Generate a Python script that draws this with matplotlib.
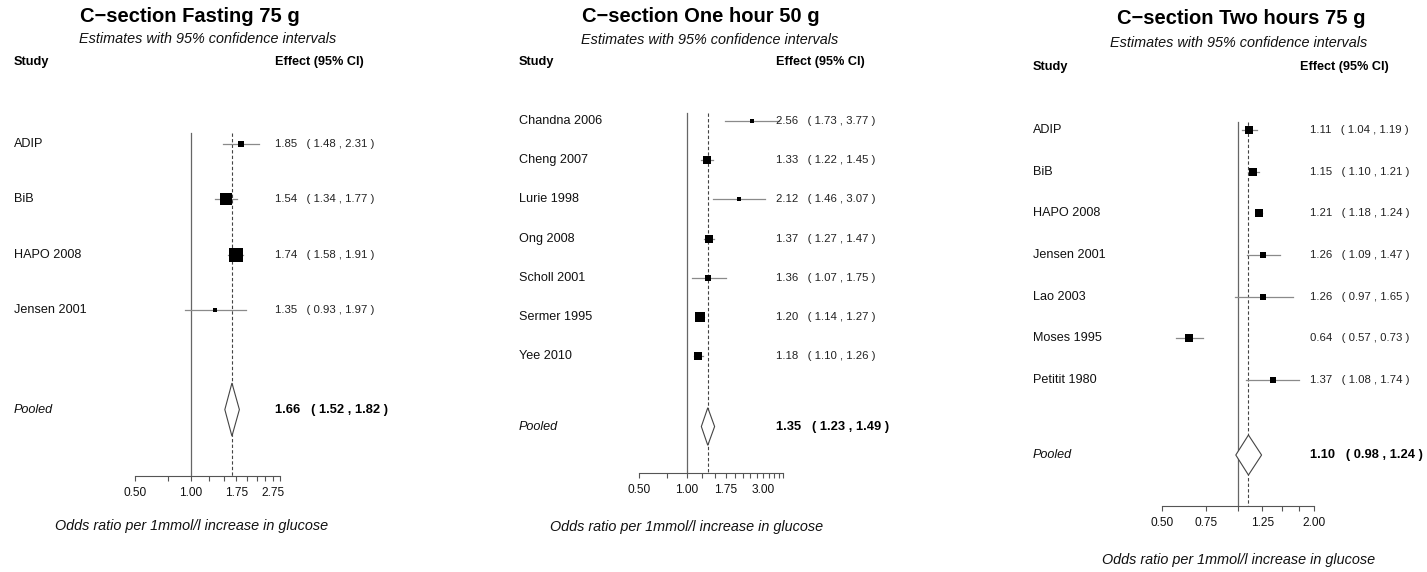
import numpy as np
import matplotlib.pyplot as plt
from matplotlib.patches import Polygon
from matplotlib.ticker import NullLocator
from matplotlib.transforms import blended_transform_factory

plt.rcParams["font.family"] = ["Liberation Sans", "DejaVu Sans"]

W, H = 1427, 572

# ------------------------------------------------------------
# Study data (odds ratio, 95% CI, weight %)
# ------------------------------------------------------------
fast_studies = ["ADIP", "BiB", "HAPO 2008", "Jensen 2001"]
fast_est = [1.85, 1.54, 1.74, 1.35]
fast_lo = [1.48, 1.34, 1.58, 0.93]
fast_hi = [2.31, 1.77, 1.91, 1.97]
fast_wt = [12.0, 34.0, 48.0, 6.5]
fast_pool = [1.66, 1.52, 1.82]

oneh_studies = ["Chandna 2006", "Cheng 2007", "Lurie 1998", "Ong 2008",
                "Scholl 2001", "Sermer 1995", "Yee 2010"]
oneh_est = [2.56, 1.33, 2.12, 1.37, 1.36, 1.20, 1.18]
oneh_lo = [1.73, 1.22, 1.46, 1.27, 1.07, 1.14, 1.10]
oneh_hi = [3.77, 1.45, 3.07, 1.47, 1.75, 1.27, 1.26]
oneh_wt = [5.5, 19.0, 5.5, 19.0, 8.3, 22.4, 20.4]
oneh_pool = [1.35, 1.23, 1.49]

twoh_studies = ["ADIP", "BiB", "HAPO 2008", "Jensen 2001", "Lao 2003",
                "Moses 1995", "Petitit 1980"]
twoh_est = [1.11, 1.15, 1.21, 1.26, 1.26, 0.64, 1.37]
twoh_lo = [1.04, 1.10, 1.18, 1.09, 0.97, 0.57, 1.08]
twoh_hi = [1.19, 1.21, 1.24, 1.47, 1.65, 0.73, 1.74]
twoh_wt = [18.1, 18.1, 18.1, 12.7, 7.9, 15.0, 10.2]
twoh_pool = [1.10, 0.98, 1.24]

fast_ticklabels = [0.50, 1.00, 1.75, 2.75]
oneh_ticklabels = [0.50, 1.00, 1.75, 3.00]
twoh_ticklabels = [0.50, 0.75, 1.25, 2.00]

XLABEL = "Odds ratio per 1mmol/l increase in glucose"
SUBTITLE = "Estimates with 95% confidence intervals"


# ------------------------------------------------------------
# Panel layout (pixels)
# ------------------------------------------------------------
panels = [
    dict(title="C\u2212section Fasting 75 g", studies=fast_studies, est=fast_est,
         lo=fast_lo, hi=fast_hi, wt=fast_wt, pool=fast_pool, xmax=3.0,
         ticklabels=fast_ticklabels,
         x_half=135, x_one=191, row0=144, step=55.33, axis_y=476,
         title_xy=(190, 17), sub_xy=(208, 39), head_y=62, study_x=14,
         effect_x=275, head_x=275, xlabel_xy=(192, 526)),
    dict(title="C\u2212section One hour 50 g", studies=oneh_studies, est=oneh_est,
         lo=oneh_lo, hi=oneh_hi, wt=oneh_wt, pool=oneh_pool, xmax=4.0,
         ticklabels=oneh_ticklabels,
         x_half=639, x_one=687, row0=121, step=39.17, axis_y=473,
         title_xy=(701, 17), sub_xy=(710, 40), head_y=62, study_x=519,
         effect_x=776, head_x=776, xlabel_xy=(687, 527)),
    dict(title="C\u2212section Two hours 75 g", studies=twoh_studies, est=twoh_est,
         lo=twoh_lo, hi=twoh_hi, wt=twoh_wt, pool=twoh_pool, xmax=2.0,
         ticklabels=twoh_ticklabels,
         x_half=1162, x_one=1238, row0=130, step=41.67, axis_y=506,
         title_xy=(1241, 19), sub_xy=(1239, 43), head_y=67, study_x=1033,
         effect_x=1310, head_x=1300, xlabel_xy=(1239, 560)),
]

fig = plt.figure(figsize=(W / 100, H / 100), dpi=100)


def ftext(x, y, s, **kw):
    fig.text(x / W, 1 - y / H, s, va="center", **kw)


def draw_panel(p):
    n = len(p["studies"])
    scale = (p["x_one"] - p["x_half"]) / np.log(2)
    x_right = p["x_one"] + scale * np.log(p["xmax"])
    top_px = p["row0"] - 0.5 * p["step"]
    ybottom = (p["axis_y"] - p["row0"]) / p["step"]

    ax = fig.add_axes([p["x_half"] / W, 1 - p["axis_y"] / H,
                       (x_right - p["x_half"]) / W, (p["axis_y"] - top_px) / H])
    ax.set_xscale("log")
    ax.set_xlim(0.5, p["xmax"])
    ax.set_ylim(ybottom, -0.5)
    for side in ["top", "right", "left"]:
        ax.spines[side].set_visible(False)
    ax.spines["bottom"].set_color("#555555")
    ax.spines["bottom"].set_linewidth(0.8)
    ax.set_yticks([])

    ticks = np.arange(0.5, p["xmax"] + 0.01, 0.25)
    labels = [f"{t:.2f}" if any(abs(t - v) < 1e-9 for v in p["ticklabels"]) else ""
              for t in ticks]
    ax.xaxis.set_minor_locator(NullLocator())
    ax.set_xticks(ticks)
    ax.set_xticklabels(labels)
    ax.tick_params(axis="x", direction="out", length=3.6, width=0.8,
                   color="#555555", labelsize=8.6, pad=4.0, labelcolor="#111111")

    pooled_est, pooled_lo, pooled_hi = p["pool"]
    pool_row = n + 0.8

    # reference lines: null effect and pooled estimate
    ax.plot([1.0, 1.0], [-0.2, ybottom], color="#666666", lw=0.9, clip_on=False)
    ax.plot([pooled_est, pooled_est], [-0.2, ybottom], color="#444444", lw=0.8,
            ls=(0, (3, 2)), clip_on=False)

    # study estimates: CI whiskers and weighted boxes
    for i in range(n):
        ax.plot([p["lo"][i], p["hi"][i]], [i, i], color="#8a8a8a", lw=0.9,
                clip_on=False, zorder=3)
        side = 1.95 * np.sqrt(p["wt"][i]) * 0.72
        ax.plot(p["est"][i], i, marker="s", ms=side, color="black", mew=0,
                clip_on=False, zorder=4)

    # pooled diamond
    h = 0.48
    diamond = Polygon([(pooled_lo, pool_row), (pooled_est, pool_row - h),
                       (pooled_hi, pool_row), (pooled_est, pool_row + h)],
                      closed=True, facecolor="white", edgecolor="#444444",
                      lw=0.8, zorder=4, clip_on=False)
    ax.add_patch(diamond)

    # row labels
    tr = blended_transform_factory(fig.transFigure, ax.transData)
    for i in range(n):
        ax.text(p["study_x"] / W, i, p["studies"][i], transform=tr, va="center",
                ha="left", fontsize=9.1, color="#111111")
        ax.text(p["effect_x"] / W, i,
                f"{p['est'][i]:.2f}   ( {p['lo'][i]:.2f} , {p['hi'][i]:.2f} )",
                transform=tr, va="center", ha="left", fontsize=8.2, color="#222222")
    ax.text(p["study_x"] / W, pool_row, "Pooled", transform=tr, va="center",
            ha="left", fontsize=9.1, style="italic", color="#111111")
    ax.text(p["effect_x"] / W, pool_row,
            f"{pooled_est:.2f}   ( {pooled_lo:.2f} , {pooled_hi:.2f} )",
            transform=tr, va="center", ha="left", fontsize=9.3,
            fontweight="bold", color="black")

    # titles and headers
    ftext(*p["title_xy"], p["title"], ha="center", fontsize=14.5,
          fontweight="bold", color="black")
    ftext(*p["sub_xy"], SUBTITLE, ha="center", fontsize=10.4, style="italic",
          color="#111111")
    ftext(p["study_x"], p["head_y"], "Study", ha="left", fontsize=9.2,
          fontweight="bold", color="black")
    ftext(p["head_x"], p["head_y"], "Effect (95% CI)", ha="left", fontsize=9.1,
          fontweight="bold", color="black")
    ftext(*p["xlabel_xy"], XLABEL, ha="center", fontsize=10.4, style="italic",
          color="#111111")


for panel in panels:
    draw_panel(panel)

fig.savefig("out.png", dpi=100, facecolor="white")
